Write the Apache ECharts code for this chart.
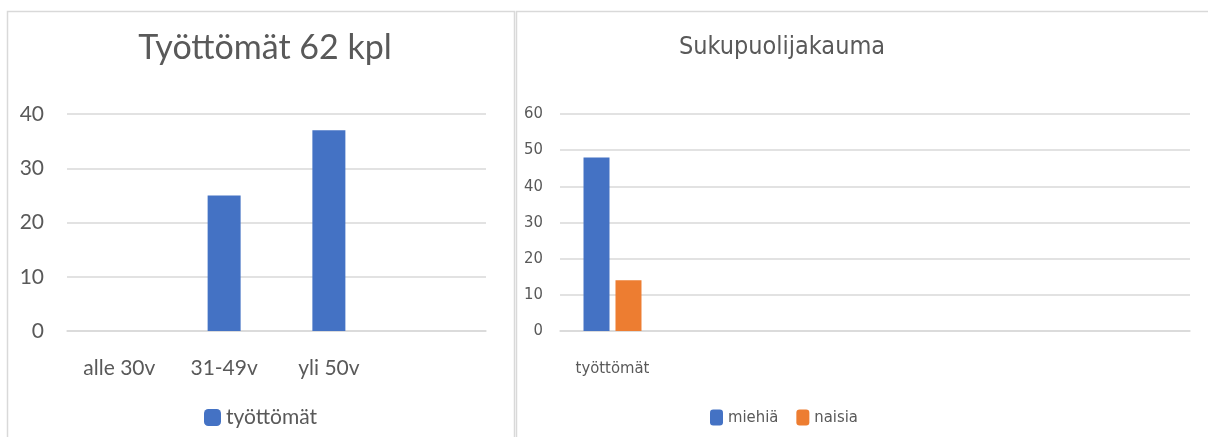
<!DOCTYPE html>
<html>
<head>
<meta charset="utf-8">
<script src="https://cdn.jsdelivr.net/npm/echarts@6/dist/echarts.min.js"></script>
<style>
  html, body { margin: 0; padding: 0; background: #fff; }
  #chart { width: 1208px; height: 437px; }
</style>
</head>
<body>
<div id="chart"></div>
<script>
// ikäryhmät
var ageCategories = ["alle 30v", "31-49v", "yli 50v", ""];
var ageValues = [0, 25, 37, null];
var ageTicks = [0, 10, 20, 30, 40];

// sukupuoli
var genderCategories = ["työttömät", "", "", "", "", ""];
var menValues = [48, null, null, null, null, null];
var womenValues = [14, null, null, null, null, null];
var genderTicks = [0, 10, 20, 30, 40, 50, 60];

var textColor = "#595959";
var lineColor = "#d9d9d9";
var font = "Lato";
var narrow = "'DejaVu Sans Condensed', Lato";

var chart = echarts.init(document.getElementById("chart"));
chart.setOption({
  animation: false,
  textStyle: { fontFamily: font, color: textColor },
  graphic: [
    { type: "rect", shape: { x: 7.5, y: 11.5, width: 507, height: 440 }, style: { fill: null, stroke: lineColor, lineWidth: 1.5 } },
    { type: "rect", shape: { x: 516.5, y: 11.5, width: 720, height: 440 }, style: { fill: null, stroke: lineColor, lineWidth: 1.5 } }
  ],
  title: [
    { text: "Työttömät 62 kpl", left: 260, top: 26, textAlign: "center",
      textStyle: { fontFamily: font, fontSize: 34, fontWeight: "normal", color: textColor } },
    { text: "Sukupuolijakauma", left: 777, top: 30, textAlign: "center",
      textStyle: { fontFamily: narrow, fontSize: 25, fontWeight: "normal", color: textColor } }
  ],
  legend: [
    { data: ["työttömät"], left: 199, top: 402, itemWidth: 17, itemHeight: 17, itemGap: 20,
      textStyle: { fontFamily: font, fontSize: 21, color: textColor } },
    { data: ["miehiä", "naisia"], left: 705, top: 404, itemWidth: 13, itemHeight: 16, itemGap: 18,
      textStyle: { fontFamily: narrow, fontSize: 16.5, color: textColor } }
  ],
  grid: [
    { left: 67, top: 114, width: 419, height: 217 },
    { left: 560, top: 114, width: 630, height: 217 }
  ],
  xAxis: [
    { type: "category", gridIndex: 0, data: ageCategories,
      axisLine: { lineStyle: { color: lineColor, width: 1.5 } },
      axisTick: { show: false },
      axisLabel: { margin: 27, fontSize: 21, color: textColor, fontFamily: font } },
    { type: "category", gridIndex: 1, data: genderCategories,
      axisLine: { lineStyle: { color: lineColor, width: 1.5 } },
      axisTick: { show: false },
      axisLabel: { margin: 29, fontSize: 16.5, color: textColor, fontFamily: narrow } }
  ],
  yAxis: [
    { type: "value", gridIndex: 0, min: ageTicks[0], max: ageTicks[ageTicks.length - 1], interval: 10,
      axisLine: { show: false }, axisTick: { show: false },
      splitLine: { lineStyle: { color: lineColor, width: 1.5 } },
      axisLabel: { margin: 23, fontSize: 21, color: textColor, fontFamily: font } },
    { type: "value", gridIndex: 1, min: genderTicks[0], max: genderTicks[genderTicks.length - 1], interval: 10,
      axisLine: { show: false }, axisTick: { show: false },
      splitLine: { lineStyle: { color: lineColor, width: 1.5 } },
      axisLabel: { margin: 17, fontSize: 16.5, color: textColor, fontFamily: narrow } }
  ],
  series: [
    { name: "työttömät", type: "bar", xAxisIndex: 0, yAxisIndex: 0, data: ageValues,
      barWidth: 33, itemStyle: { color: "#4472c4" } },
    { name: "miehiä", type: "bar", xAxisIndex: 1, yAxisIndex: 1, data: menValues,
      barWidth: 26, barGap: "23%", itemStyle: { color: "#4472c4" } },
    { name: "naisia", type: "bar", xAxisIndex: 1, yAxisIndex: 1, data: womenValues,
      barWidth: 26, barGap: "23%", itemStyle: { color: "#ed7d31" } }
  ]
});
</script>
</body>
</html>
